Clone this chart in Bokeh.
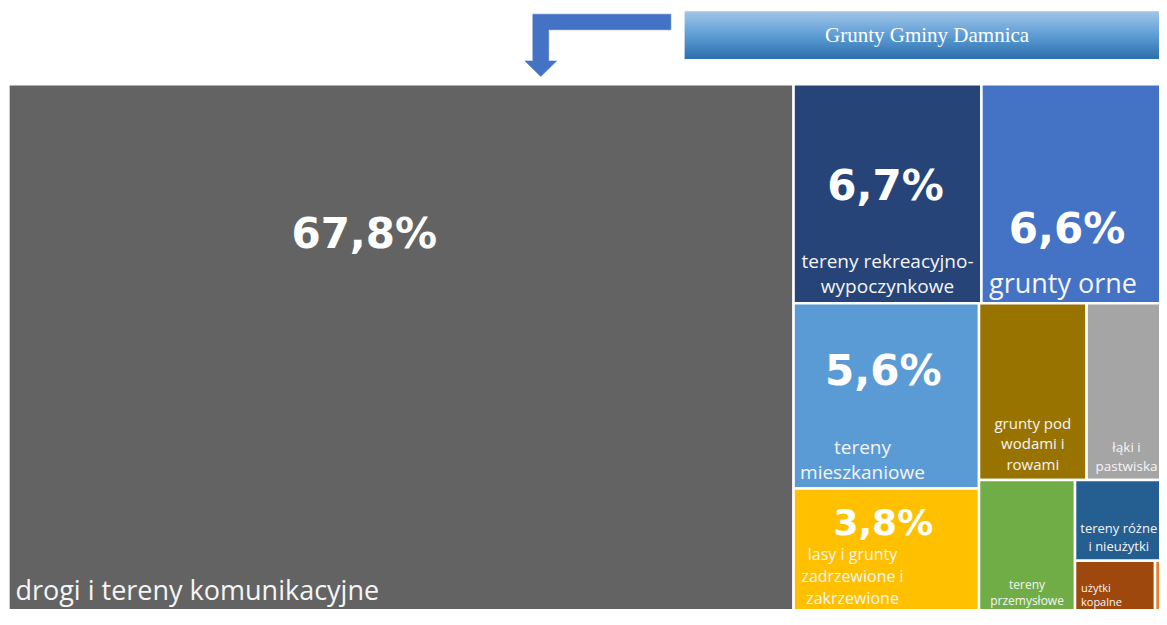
from bokeh.plotting import figure
from bokeh.models import Range1d, ColumnDataSource
from bokeh.core.properties import value
from bokeh.embed import file_html
from bokeh.resources import INLINE

# ---------------- data ----------------
title_text = "Grunty Gminy Damnica"
categories = [
    "drogi i tereny komunikacyjne",
    "tereny rekreacyjno-wypoczynkowe",
    "grunty orne",
    "tereny mieszkaniowe",
    "lasy i grunty zadrzewione i zakrzewione",
    "grunty pod wodami i rowami",
    "łąki i pastwiska",
    "tereny przemysłowe",
    "tereny różne i nieużytki",
    "użytki kopalne",
    "pozostałe",
]
shares = [67.8, 6.7, 6.6, 5.6, 3.8, 3.1, 2.3, 2.1, 1.2, 0.7, 0.1]
pct_labels = ["67,8%", "6,7%", "6,6%", "5,6%", "3,8%", "", "", "", "", "", ""]
label_lines = [
    ["drogi i tereny komunikacyjne"],
    ["tereny rekreacyjno-", "wypoczynkowe"],
    ["grunty orne"],
    ["tereny", "mieszkaniowe"],
    ["lasy i grunty", "zadrzewione i", "zakrzewione"],
    ["grunty pod", "wodami i", "rowami"],
    ["łąki i", "pastwiska"],
    ["tereny", "przemysłowe"],
    ["tereny różne", "i nieużytki"],
    ["użytki", "kopalne"],
    [],
]

# ---------------- style ----------------
colors = ["#636363", "#264478", "#4472C4", "#5B9BD5", "#FFC000", "#997300",
          "#A5A5A5", "#70AD47", "#255E91", "#9E480E", "#ED7D31"]
# treemap row/column grouping (layout structure)
groups = [[0], [1, 2], [3, 4], [5, 6], [7], [8], [9], [10]]
BOX = (8, 86, 1166, 544)  # x, y, w, h in picture units

# per-cell label style: pct (dx, dy-baseline, size), label (align, dx, dy-baseline, size, line height)
pct_style = {0: (-37, 169, 42), 1: (-2, 119, 42), 2: (-7, 164, 42),
             3: (-3, 85, 42), 4: (-3, 48, 36)}
lab_style = {
    0: ("left", 7, 528, 27, 0),
    1: ("center", 0, 188, 19, 26),
    2: ("center", -11, 213, 27, 0),
    3: ("center", -24, 154, 19, 26),
    4: ("center", -34, 73, 16, 22.5),
    5: ("center", 0, 128, 15, 21),
    6: ("center", 0, 152, 13.5, 20),
    7: ("center", 0, 111, 12, 17),
    8: ("center", -2, 54, 13, 18),
    9: ("left", 6, 31, 11, 15),
}


def treemap(vals, groups, x, y, w, h):
    scale = w * h / sum(vals)
    rects = [None] * len(vals)
    for g in groups:
        s = sum(vals[i] for i in g) * scale
        if w >= h:
            cw = s / h
            yy = y
            for i in g:
                ch = vals[i] * scale / cw
                rects[i] = (x, yy, x + cw, yy + ch)
                yy += ch
            x += cw
            w -= cw
        else:
            rh = s / w
            xx = x
            for i in g:
                cw = vals[i] * scale / rh
                rects[i] = (xx, y, xx + cw, y + rh)
                xx += cw
            y += rh
            h -= rh
    return rects


rects = treemap(shares, groups, *BOX)

W, H = 1159, 609
p = figure(width=W, height=H, x_range=Range1d(0, 1167), y_range=Range1d(625, 0),
           output_backend="svg", toolbar_location=None, min_border=0)
p.axis.visible = False
p.grid.visible = False
p.outline_line_color = None
p.background_fill_color = "white"
p.border_fill_color = "white"

src = ColumnDataSource(dict(
    left=[r[0] for r in rects], right=[r[2] for r in rects],
    top=[r[1] for r in rects], bottom=[r[3] for r in rects],
    color=colors, name=categories, share=shares))
p.quad(left="left", right="right", top="top", bottom="bottom", source=src,
       fill_color="color", line_color="white", line_width=2.5)

# percent labels (anchored at vertical middle of the digits)
for i, t in enumerate(pct_labels):
    if not t:
        continue
    dx, dy, sz = pct_style[i]
    x0, y0, x1, y1 = rects[i]
    p.text(x=[(x0 + x1) / 2 + dx], y=[y0 + dy - 0.37 * sz], text=[t], text_color="white",
           text_font=value("DejaVu Sans"), text_font_style="bold",
           text_font_size=f"{sz}px", text_align="center", text_baseline="middle")

# category labels
for i, lines in enumerate(label_lines):
    if not lines:
        continue
    align, dx, dy, sz, lh = lab_style[i]
    x0, y0, x1, y1 = rects[i]
    ax = (x0 + dx) if align == "left" else ((x0 + x1) / 2 + dx)
    for k, line in enumerate(lines):
        p.text(x=[ax], y=[y0 + dy + k * lh - 0.36 * sz], text=[line], text_color="#F5F5F5",
               text_font=value("Open Sans"), text_font_size=f"{sz}px",
               text_align=align, text_baseline="middle")

# header: bent arrow
arrow_x = [675, 536, 536, 528, 544, 560, 552, 552, 675]
arrow_y = [14, 14, 62, 62, 78, 62, 62, 30, 30]
p.patch(arrow_x, arrow_y, fill_color="#4472C4", line_color="#4472C4", line_width=0.5)

# header: gradient title box
tx0, tx1, ty0, ty1 = 689, 1177, 11, 60
c_top, c_mid, c_bot = (160, 197, 232), (95, 158, 214), (46, 112, 172)
n = ty1 - ty0
sl, sr, st, sb, sc = [], [], [], [], []
for k in range(n):
    f = k / (n - 1)
    if f < 0.5:
        a, b, g = c_top, c_mid, f / 0.5
    else:
        a, b, g = c_mid, c_bot, (f - 0.5) / 0.5
    col = tuple(int(round(a[j] + (b[j] - a[j]) * g)) for j in range(3))
    sl.append(tx0); sr.append(tx1); st.append(ty0 + k)
    sb.append(min(ty0 + k + 2.0, ty1))
    sc.append("#%02x%02x%02x" % col)
p.quad(left=sl, right=sr, top=st, bottom=sb, fill_color=sc, line_color=None)
p.text(x=[(tx0 + tx1) / 2], y=[35], text=[title_text], text_color="white",
       text_font=value("Liberation Serif"), text_font_size="21px",
       text_align="center", text_baseline="middle")

open("out.html", "w").write(file_html(p, INLINE))
